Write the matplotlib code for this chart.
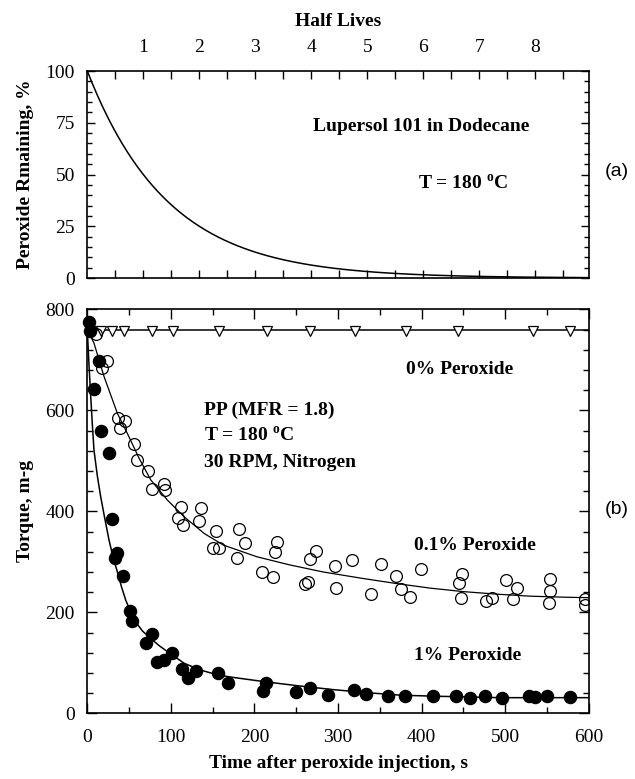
import numpy as np
import matplotlib.pyplot as plt
from matplotlib.ticker import MultipleLocator, FixedLocator

plt.rcParams['font.family'] = ['Liberation Serif', 'DejaVu Serif']
plt.rcParams['mathtext.fontset'] = 'custom'
plt.rcParams['mathtext.rm'] = 'Liberation Serif'
plt.rcParams['mathtext.bf'] = 'Liberation Serif:bold'
plt.rcParams['font.size'] = 14

# (a) peroxide decay, half life (s)
t_half = 67.0
half_life_ticks = [1, 2, 3, 4, 5, 6, 7, 8]

# (b) torque data, 0% peroxide (triangles)
t_0 = [5, 16, 30, 44, 78, 102, 158, 215, 267, 320, 381, 443, 533, 578]
torque_0 = [757, 757, 757, 757, 757, 757, 757, 757, 757, 757, 757, 757, 757, 757]
level_0 = 760

# 0.1% peroxide (open circles)
t_01 = [10, 23, 17, 37, 45, 39, 56, 60, 73, 77, 92, 93, 112, 109, 114, 136, 134,
        154, 151, 157, 179, 182, 189, 209, 222, 224, 227, 260, 264, 266, 274,
        296, 298, 317, 352, 340, 369, 375, 386, 399, 448, 445, 447, 477, 484,
        501, 514, 509, 554, 554, 553, 596, 596]
torque_01 = [752, 698, 683, 585, 579, 566, 533, 501, 480, 444, 455, 442, 409, 387, 373, 406, 381,
             361, 327, 327, 308, 365, 338, 280, 270, 320, 340, 256, 260, 305, 322,
             292, 248, 303, 296, 236, 272, 246, 230, 285, 276, 259, 229, 223, 228,
             265, 248, 226, 266, 243, 218, 226, 215]
fit_t_01 = [0, 8, 20, 36, 48, 62, 76, 96, 116, 140, 163, 203, 242, 282, 330, 370, 410, 450, 490, 530, 570, 600]
fit_01 = [760, 733, 667, 594, 554, 505, 462, 422, 389, 356, 333, 310, 294, 280, 267, 257, 248, 241, 236, 232, 230, 229]

# 1% peroxide (filled circles)
t_1 = [2, 3, 8, 14, 16, 26, 30, 36, 33, 43, 51, 53, 70, 78, 83, 92, 101, 113, 121, 130,
       156, 168, 210, 214, 250, 266, 288, 319, 334, 360, 380, 414, 441, 458, 476, 496,
       529, 536, 550, 578]
torque_1 = [775, 758, 642, 698, 560, 516, 385, 317, 308, 271, 203, 183, 140, 157, 102, 105, 120, 87, 69, 84,
            79, 61, 44, 61, 42, 50, 37, 46, 38, 34, 34, 34, 34, 30, 34, 30,
            34, 32, 34, 32]
fit_t_1 = [0, 2, 4, 6, 8, 12, 16, 21, 26, 31, 36, 41, 46, 56, 66, 76, 86, 96, 116, 135, 156, 175,
           215, 255, 294, 334, 374, 414, 494, 600]
fit_1 = [760, 690, 630, 572, 521, 470, 429, 385, 343, 308, 280, 250, 224, 185, 163, 148, 134, 122, 99, 86, 76, 71,
         62, 54, 47, 41, 36, 34, 31, 31]

fig = plt.figure(figsize=(6.35, 7.79), dpi=100)
ax1 = fig.add_axes([0.1375, 0.6431, 0.7896, 0.2657])
ax2 = fig.add_axes([0.1375, 0.0843, 0.7896, 0.5186])

# top panel
n = np.linspace(0, 600 / t_half, 400)
ax1.plot(n, 100 * 0.5 ** n, color='black', lw=1.1)
ax1.set_xlim(0, 600 / t_half)
ax1.set_ylim(0, 100)
ax1.xaxis.set_major_locator(FixedLocator(half_life_ticks))
ax1.xaxis.set_minor_locator(FixedLocator([h - 0.5 for h in half_life_ticks] + [8.5]))
ax1.yaxis.set_major_locator(MultipleLocator(25))
ax1.yaxis.set_minor_locator(MultipleLocator(5))
ax1.tick_params(which='both', direction='in', top=True, bottom=True, left=True, right=True,
                labeltop=True, labelbottom=False, width=1)
ax1.tick_params(axis='x', which='both', length=6)
ax1.tick_params(axis='y', which='major', length=6, pad=9)
ax1.tick_params(axis='y', which='minor', length=3.5)
ax1.tick_params(axis='x', pad=11)
ax1.xaxis.set_label_position('top')
ax1.set_xlabel('Half Lives', fontweight='bold', labelpad=9)
ax1.set_ylabel('Peroxide Rmaining, %', fontweight='bold', labelpad=8)
ax1.text(0.666, 0.73, 'Lupersol 101 in Dodecane', transform=ax1.transAxes,
         ha='center', va='center', fontweight='bold')
ax1.text(0.75, 0.455, r'T = 180 $^{\mathbf{o}}$C', transform=ax1.transAxes,
         ha='center', va='center', fontweight='bold')
fig.text(0.99, 1 - 172 / 779, '(a)', family='Liberation Sans', ha='right', va='center')

# bottom panel
ax2.plot([0, 600], [level_0, level_0], color='black', lw=1.1)
ax2.plot(fit_t_01, fit_01, color='black', lw=0.9)
ax2.plot(fit_t_1, fit_1, color='black', lw=1.1)
ax2.plot(t_0, torque_0, 'v', ms=7.5, mfc='white', mec='black', mew=0.9, ls='none')
ax2.plot(t_01, torque_01, 'o', ms=8.5, mfc='none', mec='black', mew=0.9, ls='none')
ax2.plot(t_1, torque_1, 'o', ms=8.7, mfc='black', mec='black', ls='none', clip_on=False)
ax2.set_xlim(0, 600)
ax2.set_ylim(0, 800)
ax2.xaxis.set_major_locator(MultipleLocator(100))
ax2.xaxis.set_minor_locator(MultipleLocator(50))
ax2.yaxis.set_major_locator(MultipleLocator(200))
ax2.yaxis.set_minor_locator(MultipleLocator(40))
ax2.tick_params(which='both', direction='in', top=True, bottom=True, left=True, right=True, width=1)
ax2.tick_params(which='major', length=7)
ax2.tick_params(which='minor', length=4)
ax2.tick_params(axis='x', pad=11)
ax2.tick_params(axis='y', pad=9)
ax2.set_xlabel('Time after peroxide injection, s', fontweight='bold', labelpad=7)
ax2.set_ylabel('Torque, m-g', fontweight='bold', labelpad=8)
ax2.text(446, 680, '0% Peroxide', ha='center', va='center', fontweight='bold')
for yy, line in zip([600, 549, 497], ['PP (MFR = 1.8)', 'T = 180 $^{\\mathbf{o}}$C', '30 RPM, Nitrogen']):
    ax2.text(140, yy, line, ha='left', va='center', fontweight='bold')
ax2.text(464, 333, '0.1% Peroxide', ha='center', va='center', fontweight='bold')
ax2.text(455, 115, '1% Peroxide', ha='center', va='center', fontweight='bold')
fig.text(0.99, 1 - 509 / 779, '(b)', family='Liberation Sans', ha='right', va='center')

for ax in (ax1, ax2):
    for s in ax.spines.values():
        s.set_linewidth(1.2)

fig.savefig('out.png', dpi=100)
